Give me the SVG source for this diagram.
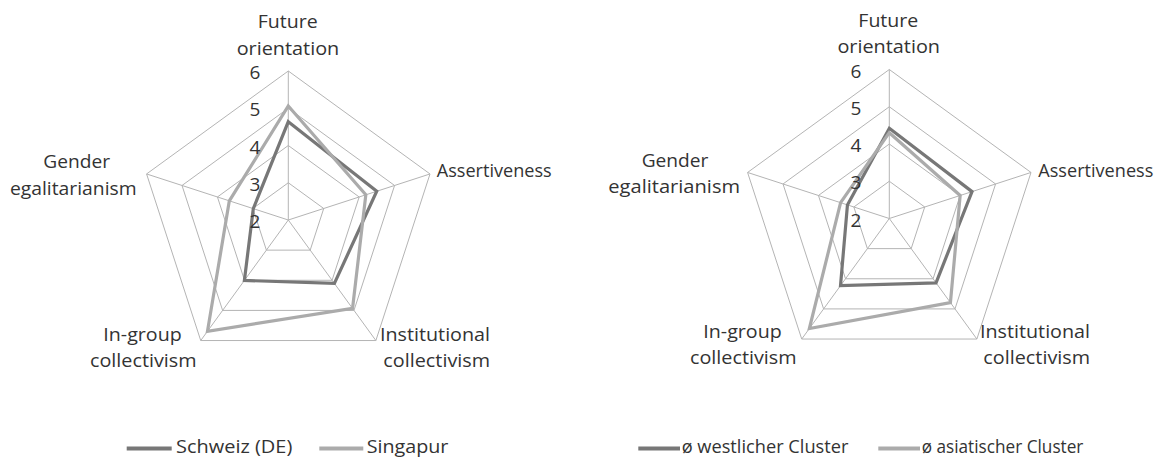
<svg xmlns="http://www.w3.org/2000/svg" xmlns:xlink="http://www.w3.org/1999/xlink" width="1167" height="458" viewBox="0 0 1167 458">
<style>
.grid{fill:none;stroke:#b4b4b4;stroke-width:1}
.s1{fill:none;stroke:#777777;stroke-width:3.2;stroke-linejoin:miter}
.s2{fill:none;stroke:#ababab;stroke-width:3.2;stroke-linejoin:miter}
.lbl{font-family:"Open Sans","Liberation Sans",sans-serif;font-size:19px;fill:#333333}
.leg{font-family:"Open Sans","Liberation Sans",sans-serif;font-size:18px;fill:#333333}
.num{font-family:"Open Sans","Liberation Sans",sans-serif;font-size:19px;fill:#333333;text-anchor:end}
.mid{text-anchor:middle}
</style>
<defs>
<g id="radarGrid">
<polygon class="grid" points="0,-149 141.71,-46.04 87.58,120.54 -87.58,120.54 -141.71,-46.04"/>
<polygon class="grid" points="0,-111.75 106.28,-34.53 65.69,90.41 -65.69,90.41 -106.28,-34.53"/>
<polygon class="grid" points="0,-74.5 70.86,-23.02 43.79,60.27 -43.79,60.27 -70.86,-23.02"/>
<polygon class="grid" points="0,-37.25 35.43,-11.51 21.9,30.14 -21.9,30.14 -35.43,-11.51"/>
<path class="grid" d="M0,0V-149M0,0L141.71,-46.04M0,0L87.58,120.54M0,0L-87.58,120.54M0,0L-141.71,-46.04"/>
</g>
</defs>

<g id="chart-left">
<g transform="translate(288.3,220)">
<use xlink:href="#radarGrid" href="#radarGrid"/>
<polygon id="series-schweiz" class="s1" points="0,-98.3 88.45,-28.74 46.08,63.43 -43.91,60.43 -35,-11.37"/>
<polygon id="series-singapur" class="s2" points="0,-114 77.51,-25.18 64.25,88.42 -80.82,111.24 -58.97,-19.16"/>
</g>
<text class="num" x="260.3" y="79">6</text>
<text class="num" x="260.3" y="116.3">5</text>
<text class="num" x="260.3" y="153.5">4</text>
<text class="num" x="260.3" y="190.8">3</text>
<text class="num" x="260.3" y="228">2</text>
<text class="lbl mid" x="287.7" y="28.3" textLength="60" lengthAdjust="spacingAndGlyphs">Future</text>
<text class="lbl mid" x="288" y="54.7" textLength="102.6" lengthAdjust="spacingAndGlyphs">orientation</text>
<text class="lbl" x="436.7" y="177.3" textLength="115" lengthAdjust="spacingAndGlyphs">Assertiveness</text>
<text class="lbl mid" x="435" y="340.7" textLength="110" lengthAdjust="spacingAndGlyphs">Institutional</text>
<text class="lbl mid" x="436.7" y="366.7" textLength="106.7" lengthAdjust="spacingAndGlyphs">collectivism</text>
<text class="lbl mid" x="142.5" y="340.7" textLength="78.4" lengthAdjust="spacingAndGlyphs">In-group</text>
<text class="lbl mid" x="143.3" y="366.7" textLength="106.7" lengthAdjust="spacingAndGlyphs">collectivism</text>
<text class="lbl mid" x="76.7" y="168.3" textLength="66.7" lengthAdjust="spacingAndGlyphs">Gender</text>
<text class="lbl mid" x="73.3" y="195" textLength="126.7" lengthAdjust="spacingAndGlyphs">egalitarianism</text>
</g>

<g id="chart-right">
<g transform="translate(889.3,218.5)">
<use xlink:href="#radarGrid" href="#radarGrid"/>
<polygon id="series-westlich" class="s1" points="0,-90.2 82.75,-26.88 46.73,64.32 -48.79,67.15 -41.85,-13.6"/>
<polygon id="series-asiatisch" class="s2" points="0,-85.8 70.86,-23.02 61.13,84.14 -79.94,110.02 -48.7,-15.82"/>
</g>
<text class="num" x="861.3" y="77.5">6</text>
<text class="num" x="861.3" y="114.75">5</text>
<text class="num" x="861.3" y="152">4</text>
<text class="num" x="861.3" y="189.25">3</text>
<text class="num" x="861.3" y="226.5">2</text>
<text class="lbl mid" x="888.3" y="26.7" textLength="60" lengthAdjust="spacingAndGlyphs">Future</text>
<text class="lbl mid" x="888.7" y="53.3" textLength="102.6" lengthAdjust="spacingAndGlyphs">orientation</text>
<text class="lbl" x="1038.3" y="177.3" textLength="115" lengthAdjust="spacingAndGlyphs">Assertiveness</text>
<text class="lbl mid" x="1035" y="338.3" textLength="110" lengthAdjust="spacingAndGlyphs">Institutional</text>
<text class="lbl mid" x="1036.7" y="364.3" textLength="106.7" lengthAdjust="spacingAndGlyphs">collectivism</text>
<text class="lbl mid" x="742.5" y="338.3" textLength="78.4" lengthAdjust="spacingAndGlyphs">In-group</text>
<text class="lbl mid" x="743.3" y="364.3" textLength="106.7" lengthAdjust="spacingAndGlyphs">collectivism</text>
<text class="lbl mid" x="675" y="166.7" textLength="66.7" lengthAdjust="spacingAndGlyphs">Gender</text>
<text class="lbl mid" x="674.2" y="193" textLength="131.7" lengthAdjust="spacingAndGlyphs">egalitarianism</text>
</g>

<g id="legend-left">
<line x1="126.7" y1="448.5" x2="171.7" y2="448.5" stroke="#777777" stroke-width="4"/>
<text class="leg" x="176" y="452.5" textLength="116.3" lengthAdjust="spacingAndGlyphs">Schweiz (DE)</text>
<line x1="319.3" y1="448.5" x2="363.3" y2="448.5" stroke="#ababab" stroke-width="4"/>
<text class="leg" x="366.7" y="452.5" textLength="81.7" lengthAdjust="spacingAndGlyphs">Singapur</text>
</g>

<g id="legend-right">
<line x1="638.3" y1="448.5" x2="680" y2="448.5" stroke="#777777" stroke-width="4"/>
<text class="leg" x="681.7" y="452.5" textLength="166.7" lengthAdjust="spacingAndGlyphs">ø westlicher Cluster</text>
<line x1="878.3" y1="448.5" x2="920" y2="448.5" stroke="#ababab" stroke-width="4"/>
<text class="leg" x="921.7" y="452.5" textLength="161.7" lengthAdjust="spacingAndGlyphs">ø asiatischer Cluster</text>
</g>
</svg>
